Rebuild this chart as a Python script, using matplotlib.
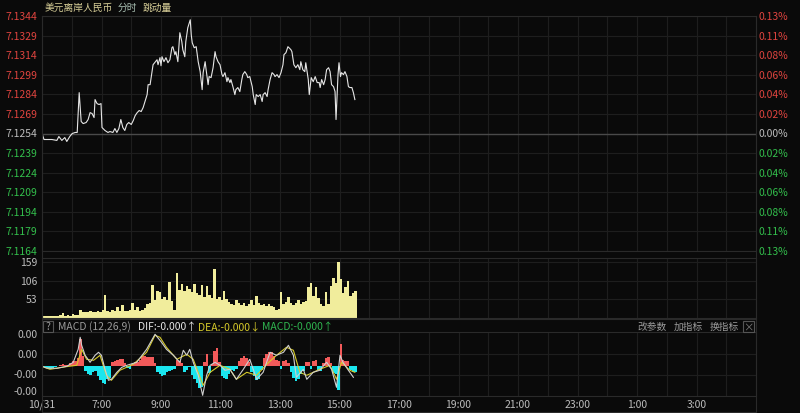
import numpy as np
import matplotlib
matplotlib.use('Agg')
import matplotlib.pyplot as plt
from matplotlib.transforms import blended_transform_factory as btf
from matplotlib.patches import Rectangle
from matplotlib.lines import Line2D

plt.rcParams['font.family'] = ['Noto Sans CJK SC', 'DejaVu Sans']

# ---------------- data ----------------
prev_close = 7.1254
price_ticks = [7.1344, 7.1329, 7.1314, 7.1299, 7.1284, 7.1269, 7.1254,
               7.1239, 7.1224, 7.1209, 7.1194, 7.1179, 7.1164]
pct_labels = ['0.13%', '0.11%', '0.08%', '0.06%', '0.04%', '0.02%', '0.00%',
              '0.02%', '0.04%', '0.06%', '0.08%', '0.11%', '0.13%']
time_labels = ['10/31', '7:00', '9:00', '11:00', '13:00', '15:00', '17:00',
               '19:00', '21:00', '23:00', '1:00', '3:00']
time_label_min = [0, 120, 240, 360, 480, 600, 720, 840, 960, 1080, 1200, 1320]  # minutes after 05:00

# minutes after 05:00
price_t = [0, 4, 20, 30, 34, 40, 46, 50, 56, 61, 67, 71, 75, 79, 83, 89, 93, 97, 101, 105,
           107, 111, 115, 119, 121, 127, 133, 137, 143, 147, 151, 155, 159, 163, 167, 171, 175, 180, 184, 188,
           192, 196, 200, 204, 212, 214, 218, 224, 232, 234, 238, 240, 242, 246, 250, 254, 258, 262, 264, 268,
           270, 274, 278, 282, 284, 288, 290, 294, 299, 301, 303, 307, 311, 315, 319, 323, 325, 329, 331, 335,
           337, 341, 345, 349, 351, 355, 359, 363, 365, 369, 373, 375, 379, 381, 385, 389, 391, 395, 399, 403,
           405, 409, 413, 415, 419, 424, 426, 430, 432, 436, 440, 444, 446, 450, 454, 456, 460, 464, 468, 470,
           474, 478, 482, 486, 488, 492, 496, 498, 502, 504, 508, 512, 516, 520, 522, 526, 530, 532, 535, 537,
           539, 543, 547, 551, 555, 559, 561, 564, 568, 571, 574, 578, 581, 584, 588, 591, 593, 595, 597, 599,
           602, 604, 608, 611, 615, 618, 621, 625, 628, 631]
price_v = [7.12540, 7.12494, 7.12494, 7.12487, 7.12517, 7.12487, 7.12509, 7.12479, 7.12517, 7.12540,
           7.12548, 7.12548, 7.12853, 7.12632, 7.12616, 7.12624, 7.12647, 7.12700, 7.12693, 7.12662,
           7.12800, 7.12769, 7.12762, 7.12769, 7.12586, 7.12563, 7.12548, 7.12555, 7.12548, 7.12578,
           7.12548, 7.12578, 7.12647, 7.12586, 7.12563, 7.12609, 7.12624, 7.12609, 7.12639, 7.12678,
           7.12700, 7.12716, 7.12708, 7.12739, 7.12838, 7.12914, 7.12914, 7.13067, 7.13105, 7.13067,
           7.13121, 7.13059, 7.13128, 7.13090, 7.13121, 7.13082, 7.13105, 7.13197, 7.13205, 7.13144,
           7.13167, 7.13090, 7.13312, 7.13243, 7.13182, 7.13128, 7.13243, 7.13350, 7.13411, 7.13296,
           7.13235, 7.13197, 7.13205, 7.13090, 7.13014, 7.12876, 7.13006, 7.13090, 7.13029, 7.12914,
           7.12976, 7.12968, 7.13044, 7.13167, 7.13128, 7.13090, 7.13067, 7.12991, 7.12976, 7.13006,
           7.12937, 7.12968, 7.12930, 7.12953, 7.12899, 7.12838, 7.12876, 7.12892, 7.12861, 7.12953,
           7.12991, 7.13014, 7.12991, 7.12968, 7.12976, 7.12899, 7.12838, 7.12762, 7.12838, 7.12823,
           7.12838, 7.12785, 7.12838, 7.12853, 7.12823, 7.12876, 7.12953, 7.13006, 7.12991, 7.12976,
           7.12991, 7.12968, 7.13006, 7.13067, 7.13144, 7.13159, 7.13205, 7.13197, 7.13182, 7.13167,
           7.13067, 7.13044, 7.13067, 7.13029, 7.13090, 7.13029, 7.13014, 7.13082, 7.13006, 7.12953,
           7.12838, 7.12968, 7.12937, 7.12976, 7.12930, 7.12930, 7.12892, 7.12953, 7.12914, 7.12953,
           7.13029, 7.13044, 7.13014, 7.12914, 7.12899, 7.12861, 7.12647, 7.12823, 7.12991, 7.13082,
           7.12976, 7.13006, 7.12991, 7.13014, 7.12976, 7.12899, 7.12892, 7.12892, 7.12853, 7.12800]

# 5-minute buckets starting at 05:00
bucket_t = list(range(0, 631, 5))
volume = [7, 6, 7, 6, 7, 6, 7, 8, 14, 7,
          8, 7, 12, 8, 9, 24, 16, 18, 17, 19,
          16, 18, 20, 17, 22, 64, 20, 17, 22, 19,
          31, 20, 36, 21, 19, 24, 42, 22, 31, 20,
          23, 28, 40, 42, 95, 52, 78, 74, 55, 60,
          50, 102, 48, 22, 129, 80, 97, 76, 92, 82,
          74, 97, 72, 66, 95, 60, 92, 64, 58, 138,
          55, 60, 52, 78, 54, 45, 40, 36, 50, 42,
          38, 44, 35, 40, 50, 38, 62, 44, 36, 40,
          33, 41, 35, 30, 22, 26, 74, 40, 45, 60,
          42, 38, 44, 52, 40, 45, 48, 88, 99, 62,
          88, 58, 40, 35, 75, 41, 90, 114, 100, 159,
          110, 70, 88, 105, 62, 70, 78]

# MACD values in units of 2e-5
macd_hist = [-1, -2, -2.7, -2.7, -2, -0.5, 0.5, 1.5, 2.3, 1.7,
             1.5, 3, 5, 5, 8, 27, 10, -5, -8, -9,
             -6, -5, -10, -14, -17, -18, -13, -12, 4, 5,
             6, 7, 7, 3, -2, -3, 2, 4, 4, 6,
             10, 10, 9, 9, 9, 3, -6, -8, -10, -9,
             -6, -5, -4, -3, 6, 5, 3, -6, -4, -1,
             -9, -13, -17, -22, -21, 4, 12, -7, 2, 15,
             18, 4, -10, -12, -13, -8, -4, -5, -3, 5,
             8, 10, 8, 4, -6, -10, -14, -13, -4, 8,
             12, 14, 14, 10, 6, 5, -3, 5, 6, 3,
             -6, -12, -15, -13, -8, -5, 4, 4, -3, 5,
             6, -4, -5, 3, 8, 9, 3, -7, -8, -24,
             22, 6, 5, 5, -4, -6, -6]
dif_t = [0, 9, 30, 50, 63, 73, 77, 80, 87, 97, 107, 114, 120, 127, 134, 140, 151, 161, 171, 191,
         211, 228, 241, 251, 265, 278, 285, 292, 298, 305, 315, 324, 332, 339, 349, 359, 369, 379, 392, 406,
         419, 433, 446, 460, 473, 487, 497, 507, 513, 527, 534, 547, 560, 574, 584, 594, 601, 607, 618, 628]
dif_v = [0, -1.7, -2, 0, 4, 17, 29, 21, 11, 4, 11, 14, 11, -3, -14, -13, -6, -1, 1, 4,
         17, 32, 24, 17, 11, 4, 16, 11, 17, 4, -9, -29, -9, 1, 4, 1, -4, -3, -13, -3,
         7, -13, -6, 14, 11, 14, 21, 11, -11, -3, -13, -6, -4, 4, -3, -21, 11, 4, -4, -11]
dea_t = [0, 16, 50, 70, 80, 90, 104, 117, 130, 140, 157, 184, 211, 228, 238, 251, 272, 292, 305, 325,
         339, 359, 379, 392, 413, 433, 453, 473, 493, 507, 520, 534, 560, 581, 594, 604, 621, 631]
dea_v = [0, -3, -0.3, 1, 17, 7, 6, 11, -9, -14, -4, 2, 14, 31, 29, 19, 7, 12, 7, -19,
         -6, 1, -3, -13, -6, -9, 2, 11, 19, 16, -6, -9, -3, 1, -13, 4, -4, -6]
MACD_UNIT = 2e-5

# ---------------- style ----------------
BG = '#0a0a0a'
GRID = '#1e1e1e'
SPINE = '#2a2a2a'
RED = '#e0443f'
GREEN = '#33bf4c'
GRAY = '#bdbdbd'
FS = 7.5
FS_T = 7.0

W, H = 800, 414
fig = plt.figure(figsize=(8, 4.14), dpi=100, facecolor=BG)


def rect(x0, y0, x1, y1):
    return [x0 / W, 1 - y1 / H, (x1 - x0) / W, (y1 - y0) / H]


def fy(y):
    return 1 - y / H


def fx(x):
    return x / W


def style(ax):
    ax.set_facecolor(BG)
    ax.set_xlim(0, 1440)
    ax.set_xticks([])
    ax.set_yticks([])
    for s in ax.spines.values():
        s.set_color(SPINE)
        s.set_linewidth(0.8)
    for h in range(60, 1440, 60):
        ax.axvline(h, color=GRID, lw=0.8, zorder=0)


# price panel
ax_p = fig.add_axes(rect(42, 17, 756, 252))
style(ax_p)
ax_p.set_ylim(price_ticks[-1], price_ticks[0])
for p in price_ticks:
    if abs(p - prev_close) < 1e-9:
        ax_p.axhline(p, color='#4a4a4a', lw=1.0, zorder=1)
    else:
        ax_p.axhline(p, color=GRID, lw=0.8, zorder=0)
tr_p = btf(ax_p.transAxes, ax_p.transData)
for p, lab in zip(price_ticks, pct_labels):
    c = RED if p > prev_close + 1e-9 else (GREEN if p < prev_close - 1e-9 else GRAY)
    ax_p.text(-0.006, p, f'{p:.4f}', transform=tr_p, ha='right', va='center',
              color=c, fontsize=FS, clip_on=False)
    ax_p.text(1.003, p, lab, transform=tr_p, ha='left', va='center',
              color=c, fontsize=FS, clip_on=False)
ax_p.plot(price_t, price_v, color='#e6e6e6', lw=0.8, zorder=3)

# volume panel
ax_v = fig.add_axes(rect(42, 259, 756, 319))
style(ax_v)
ax_v.set_ylim(0, 159 * 60 / 56)
for v in [53, 106, 159]:
    ax_v.axhline(v, color=GRID, lw=0.8, zorder=0)
    ax_v.text(-0.006, v, str(v), transform=btf(ax_v.transAxes, ax_v.transData),
              ha='right', va='center', color=GRAY, fontsize=FS, clip_on=False)
ax_v.bar(bucket_t, volume, width=5, align='edge', color='#f1ed9c',
         linewidth=0, zorder=2)

# macd panel
ax_m = fig.add_axes(rect(42, 333, 756, 397))
style(ax_m)
zero_y = 367.3
ax_m.set_ylim((zero_y - 397) * MACD_UNIT, (zero_y - 333) * MACD_UNIT)
for y in [355, 376]:
    ax_m.axhline((zero_y - y) * MACD_UNIT, color=GRID, lw=0.8, zorder=0)
tr_m = btf(ax_m.transAxes, ax_m.transData)
for y, lab in zip([335, 355, 375, 392], ['0.00', '0.00', '-0.00', '-0.00']):
    ax_m.text(-0.006, (zero_y - y) * MACD_UNIT, lab, transform=tr_m, ha='right',
              va='center', color=GRAY, fontsize=FS, clip_on=False)
hist = np.array(macd_hist) * MACD_UNIT
colors = ['#f25a5a' if h > 0 else '#1ae6ef' for h in hist]
ax_m.bar(bucket_t, hist, width=5, align='edge', color=colors, linewidth=0, zorder=2)
ax_m.plot(dea_t, np.array(dea_v) * MACD_UNIT, color='#d6ca2a', lw=0.8, zorder=3)
ax_m.plot(dif_t, np.array(dif_v) * MACD_UNIT, color='#cfcfcf', lw=0.8, zorder=4)

# x labels
tr_x = btf(ax_m.transData, fig.transFigure)
for t, lab in zip(time_label_min, time_labels):
    ax_m.text(t, fy(405), lab, transform=tr_x, ha='center', va='center',
              color=GRAY, fontsize=FS, clip_on=False)

# frame lines
for x in [42, 756]:
    fig.add_artist(Line2D([fx(x), fx(x)], [fy(17), fy(413)], color=SPINE, lw=0.8))
fig.add_artist(Line2D([fx(42), fx(756)], [fy(413), fy(413)], color=SPINE, lw=0.8))
fig.add_artist(Line2D([fx(42), fx(756)], [fy(320), fy(320)], color=SPINE, lw=0.8))

# title
fig.text(fx(45), fy(8), '美元离岸人民币', color='#d8cf98', fontsize=FS_T, va='center', ha='left')
fig.text(fx(118), fy(8), '分时', color='#a9bfb2', fontsize=FS_T, va='center', ha='left')
fig.text(fx(143), fy(8), '跳动量', color='#d8cf98', fontsize=FS_T, va='center', ha='left')

# MACD legend row
ly = fy(327)
fig.add_artist(Rectangle((fx(43), fy(333)), fx(10), 11 / H, fill=False, edgecolor='#555555', lw=0.8))
fig.text(fx(48), ly, '?', color='#9a9a9a', fontsize=FS, ha='center', va='center')
fig.text(fx(58), ly, 'MACD (12,26,9)', color='#9a9a9a', fontsize=FS, ha='left', va='center')
fig.text(fx(138), ly, 'DIF:-0.000↑', color='#e6e6e6', fontsize=FS, ha='left', va='center')
fig.text(fx(198), ly, 'DEA:-0.000↓', color='#d6ca2a', fontsize=FS, ha='left', va='center')
fig.text(fx(262), ly, 'MACD:-0.000↑', color='#2fb54f', fontsize=FS, ha='left', va='center')
fig.text(fx(637), ly, '改参数', color='#9a9a9a', fontsize=FS_T, ha='left', va='center')
fig.text(fx(674), ly, '加指标', color='#9a9a9a', fontsize=FS_T, ha='left', va='center')
fig.text(fx(710), ly, '换指标', color='#9a9a9a', fontsize=FS_T, ha='left', va='center')
fig.add_artist(Rectangle((fx(743), fy(333)), fx(11), 11 / H, fill=False, edgecolor='#555555', lw=0.8))
fig.text(fx(748.5), fy(327.5), '×', color='#7a7a7a', fontsize=FS, ha='center', va='center')

fig.savefig('out.png', dpi=100, facecolor=BG)
